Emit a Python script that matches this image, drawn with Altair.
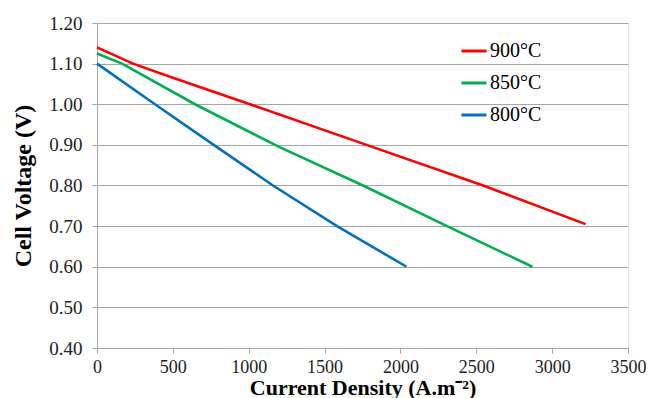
import altair as alt
import pandas as pd

series_names = ["900°C", "850°C", "800°C"]
colors = ["#ff0000", "#00b050", "#0070c0"]

red_x = [0, 237, 500, 1008, 1776, 2545, 3220]
red_y = [1.14, 1.10, 1.065, 1.00, 0.90, 0.80, 0.705]
green_x = [0, 165, 646, 1200, 1753, 2307, 2870]
green_y = [1.125, 1.10, 1.00, 0.895, 0.80, 0.70, 0.60]
blue_x = [0, 382, 750, 1160, 1582, 2040]
blue_y = [1.10, 1.00, 0.905, 0.80, 0.70, 0.60]

x_ticks = [0, 500, 1000, 1500, 2000, 2500, 3000, 3500]
y_ticks = [0.40, 0.50, 0.60, 0.70, 0.80, 0.90, 1.00, 1.10, 1.20]

rows = []
for name, xs, ys in zip(series_names, [red_x, green_x, blue_x], [red_y, green_y, blue_y]):
    for i, (a, b) in enumerate(zip(xs, ys)):
        rows.append({"series": name, "x": a, "y": b, "order": i})
df = pd.DataFrame(rows)

FONT = "Liberation Serif"
GRID = "#a6a6a6"

chart = alt.Chart(df).mark_line(strokeWidth=2.6).encode(
    x=alt.X("x:Q", scale=alt.Scale(domain=[0, 3500], nice=False),
            axis=alt.Axis(values=x_ticks, format="d", title="Current Density (A.m⁻²)",
                          grid=False, domainColor=GRID, tickColor=GRID, tickSize=5,
                          labelFont=FONT, labelFontSize=18, labelColor="#222",
                          labelPadding=5, titleFont=FONT, titleFontSize=22,
                          titleFontWeight="bold", titleColor="#000",
                          titleBaseline="alphabetic", titleY=46,
                          labelFlush=False)),
    y=alt.Y("y:Q", scale=alt.Scale(domain=[0.40, 1.20], nice=False, zero=False),
            axis=alt.Axis(values=y_ticks, format=".2f", title="Cell Voltage (V)",
                          grid=True, gridColor=GRID, gridWidth=1.2,
                          domainColor=GRID, tickColor=GRID, tickSize=5,
                          labelFont=FONT, labelFontSize=19, labelColor="#222",
                          labelPadding=10, titleFont=FONT, titleFontSize=24,
                          titleFontWeight="bold", titleColor="#000", titlePadding=13)),
    color=alt.Color("series:N", sort=series_names,
                    scale=alt.Scale(domain=series_names, range=colors),
                    legend=alt.Legend(title=None, orient="none", legendX=363, legendY=14,
                                      symbolType="stroke", symbolStrokeWidth=3,
                                      symbolSize=625, labelFont=FONT, labelFontSize=20,
                                      labelColor="#000", rowPadding=8, labelOffset=2)),
    order="order:Q",
).properties(
    width=531, height=325,
    autosize=alt.AutoSizeParams(type="none"),
    padding={"left": 97, "top": 23, "right": 24, "bottom": 50},
).configure_view(stroke=None).configure(background="white")

chart.save("out.html", embed_options={"renderer": "svg", "actions": False})
